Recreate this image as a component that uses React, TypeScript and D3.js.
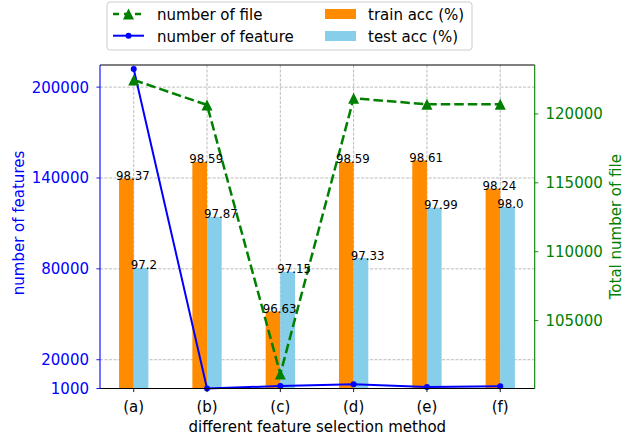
import React from "react";
import * as d3 from "d3";

const methods = ["(a)", "(b)", "(c)", "(d)", "(e)", "(f)"];
const trainAcc = [98.37, 98.59, 96.63, 98.59, 98.61, 98.24];
const testAcc = [97.2, 97.87, 97.15, 97.33, 97.99, 98.0];
const numFeature = [212000, 1000, 2650, 3800, 2000, 2450];
const numFile = [122470, 120650, 101120, 121130, 120700, 120700];
const leftTicks = [1000, 20000, 80000, 140000, 200000];
const rightTicks = [105000, 110000, 115000, 120000];

const W = 623;
const H = 440;
const plot = { left: 100, right: 534.7, top: 65, bottom: 388.5 };
const FONT = "DejaVu Sans, sans-serif";
const FS = 15;
const ORANGE = "#ff8c00";
const SKY = "#87ceeb";
const GREEN = "#008000";
const BLUE = "#0000ff";

// python-like float formatting (98.0 stays "98.0")
const fmt = (v: number) => (Number.isInteger(v) ? v.toFixed(1) : String(v));

const App = () => {
  const x = d3.scaleLinear().domain([-0.46, 5.47]).range([plot.left, plot.right]);
  const yBar = d3.scaleLinear().domain([95.62, 99.86]).range([plot.bottom, plot.top]);
  const yLeft = d3.scaleLinear().domain([1000, 214600]).range([plot.bottom, plot.top]);
  const yRight = d3.scaleLinear().domain([100070, 123550]).range([plot.bottom, plot.top]);
  const bw = x(0.2) - x(0);

  const featureLine = d3
    .line<number>()
    .x((_, i) => x(i))
    .y((d) => yLeft(d))(numFeature);
  const fileLine = d3
    .line<number>()
    .x((_, i) => x(i))
    .y((d) => yRight(d))(numFile);

  const tri = (cx: number, cy: number, s = 11) =>
    `M${cx},${cy - s / 2}L${cx - s / 2},${cy + s / 2}L${cx + s / 2},${cy + s / 2}Z`;

  return (
    <svg width={W} height={H} style={{ position: "absolute", left: 0, top: 0 }} fontFamily={FONT}>
      <rect width={W} height={H} fill="white" />

      {/* grid */}
      <g stroke="#b0b0b0" strokeWidth={0.85} strokeDasharray="3.1,1.4">
        {leftTicks.map((t) => (
          <line key={"h" + t} x1={plot.left} x2={plot.right} y1={yLeft(t)} y2={yLeft(t)} />
        ))}
        {methods.map((m, i) => (
          <line key={"v" + m} x1={x(i)} x2={x(i)} y1={plot.top} y2={plot.bottom} />
        ))}
      </g>

      {/* bars */}
      {trainAcc.map((v, i) => (
        <rect key={"tr" + i} x={x(i - 0.2)} y={yBar(v)} width={bw} height={plot.bottom - yBar(v)} fill={ORANGE} />
      ))}
      {testAcc.map((v, i) => (
        <rect key={"te" + i} x={x(i)} y={yBar(v)} width={bw} height={plot.bottom - yBar(v)} fill={SKY} />
      ))}

      {/* lines */}
      <path d={featureLine ?? ""} fill="none" stroke={BLUE} strokeWidth={2} />
      {numFeature.map((v, i) => (
        <circle key={"fd" + i} cx={x(i)} cy={yLeft(v)} r={3} fill={BLUE} />
      ))}
      <path d={fileLine ?? ""} fill="none" stroke={GREEN} strokeWidth={2.5} strokeDasharray="9.5,4" />
      {numFile.map((v, i) => (
        <path key={"ft" + i} d={tri(x(i), yRight(v))} fill={GREEN} />
      ))}

      {/* bar labels */}
      <g fontSize={11.8} fill="black">
        {trainAcc.map((v, i) => (
          <text key={"ltr" + i} x={x(i - 0.2) - 3} y={yBar(v) + 1.5}>
            {fmt(v)}
          </text>
        ))}
        {testAcc.map((v, i) => (
          <text key={"lte" + i} x={x(i) - 3} y={yBar(v) + 1.5}>
            {fmt(v)}
          </text>
        ))}
      </g>

      {/* spines */}
      <line x1={plot.left} x2={plot.right} y1={plot.top} y2={plot.top} stroke="black" strokeWidth={1.1} />
      <line x1={plot.left} x2={plot.right} y1={plot.bottom} y2={plot.bottom} stroke="black" strokeWidth={1.1} />
      <line x1={plot.left} x2={plot.left} y1={plot.top} y2={plot.bottom} stroke={BLUE} strokeWidth={1.1} />
      <line x1={plot.right} x2={plot.right} y1={plot.top} y2={plot.bottom} stroke={GREEN} strokeWidth={1.1} />

      {/* left axis */}
      <g fontSize={FS} fill={BLUE}>
        {leftTicks.map((t) => (
          <g key={"lt" + t}>
            <line x1={plot.left - 3.6} x2={plot.left} y1={yLeft(t)} y2={yLeft(t)} stroke={BLUE} strokeWidth={0.9} />
            <text x={89} y={yLeft(t)} dy="0.36em" textAnchor="end">
              {t}
            </text>
          </g>
        ))}
        <text transform={`translate(24,223) rotate(-90)`} textAnchor="middle">
          number of features
        </text>
      </g>

      {/* right axis */}
      <g fontSize={FS} fill={GREEN}>
        {rightTicks.map((t) => (
          <g key={"rt" + t}>
            <line x1={plot.right} x2={plot.right + 3.6} y1={yRight(t)} y2={yRight(t)} stroke={GREEN} strokeWidth={0.9} />
            <text x={545.5} y={yRight(t)} dy="0.36em">
              {t}
            </text>
          </g>
        ))}
        <text transform={`translate(620.5,226.7) rotate(-90)`} textAnchor="middle">
          Total number of file
        </text>
      </g>

      {/* bottom axis */}
      <g fontSize={FS} fill="black">
        {methods.map((m, i) => (
          <g key={"bt" + m}>
            <line x1={x(i)} x2={x(i)} y1={plot.bottom} y2={plot.bottom + 3.6} stroke="black" strokeWidth={0.9} />
            <text x={x(i)} y={411.5} textAnchor="middle">
              {m}
            </text>
          </g>
        ))}
        <text x={(plot.left + plot.right) / 2} y={432} textAnchor="middle">
          different feature selection method
        </text>
      </g>

      {/* legend */}
      <g fontSize={FS}>
        <rect x={107} y={2} width={365} height={48} rx={3} fill="white" fillOpacity={0.8} stroke="#cccccc" strokeWidth={1} />
        <line x1={113} x2={144} y1={14} y2={14} stroke={GREEN} strokeWidth={2.5} strokeDasharray="6,5" strokeDashoffset={0} />
        <path d={tri(128.5, 14)} fill={GREEN} />
        <text x={157} y={20}>number of file</text>
        <line x1={113} x2={144} y1={35.7} y2={35.7} stroke={BLUE} strokeWidth={2} />
        <circle cx={128.5} cy={35.7} r={3} fill={BLUE} />
        <text x={157} y={41.7}>number of feature</text>
        <rect x={325} y={9} width={31} height={10} fill={ORANGE} />
        <text x={368} y={20}>train acc (%)</text>
        <rect x={325} y={31} width={31} height={10} fill={SKY} />
        <text x={368} y={41.7}>test acc (%)</text>
      </g>
    </svg>
  );
};

export default App;
